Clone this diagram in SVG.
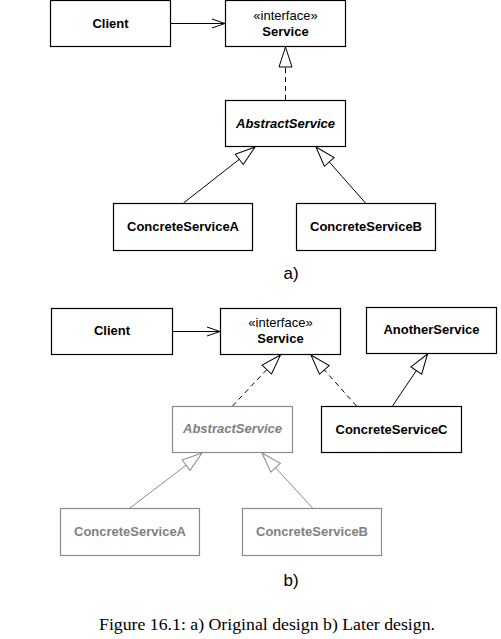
<svg xmlns="http://www.w3.org/2000/svg" width="501" height="639" viewBox="0 0 501 639">
<style>
.box{fill:#fff;stroke:#000;stroke-width:1.2}
.gbox{fill:#fff;stroke:#8c8c8c;stroke-width:1.2}
.t{font-family:"Liberation Sans",Arial,sans-serif;font-size:13px;font-weight:bold;text-anchor:middle;fill:#000}
.st{font-family:"Liberation Sans",Arial,sans-serif;font-size:13px;text-anchor:middle;fill:#000}
.g{fill:#808080}
.i{font-style:italic}
.lab{font-family:"Liberation Sans",Arial,sans-serif;font-size:17px;text-anchor:middle;fill:#000}
.cap{font-family:"Liberation Serif","Times New Roman",serif;font-size:16px;fill:#000}
.ln{stroke:#000;stroke-width:1;fill:none}
.gln{stroke:#8c8c8c;stroke-width:1;fill:none}
.dash{stroke-dasharray:5,4}
</style>
<defs>
<marker id="tri" viewBox="-21 -8 22 16" markerWidth="22" markerHeight="16" refX="0" refY="0" markerUnits="userSpaceOnUse" orient="auto">
<path d="M0,0 L-20,-6.5 L-20,6.5 Z" fill="#fff" stroke="#000" stroke-width="1"/>
</marker>
<marker id="gtri" viewBox="-21 -8 22 16" markerWidth="22" markerHeight="16" refX="0" refY="0" markerUnits="userSpaceOnUse" orient="auto">
<path d="M0,0 L-20,-6.5 L-20,6.5 Z" fill="#fff" stroke="#8c8c8c" stroke-width="1"/>
</marker>
<marker id="open" viewBox="-15 -7 16 14" markerWidth="16" markerHeight="14" refX="0" refY="0" markerUnits="userSpaceOnUse" orient="auto">
<path d="M-13,-4.5 L0,0 L-13,4.5" fill="none" stroke="#000" stroke-width="1"/>
</marker>
</defs>

<g id="connectors">
<line class="ln" x1="171" y1="23.5" x2="225" y2="23.5" marker-end="url(#open)"/>
<line class="ln dash" x1="285.5" y1="100" x2="285.5" y2="47" marker-end="url(#tri)"/>
<line class="ln" x1="183.5" y1="203" x2="255" y2="147" marker-end="url(#tri)"/>
<line class="ln" x1="365.5" y1="203" x2="316" y2="147" marker-end="url(#tri)"/>

<line class="ln" x1="172.5" y1="331.5" x2="220" y2="331.5" marker-end="url(#open)"/>
<line class="ln dash" x1="232.5" y1="406" x2="280.5" y2="355" marker-end="url(#tri)"/>
<line class="ln dash" x1="356.5" y1="406" x2="311" y2="355" marker-end="url(#tri)"/>
<line class="ln" x1="392.5" y1="406" x2="427.5" y2="354" marker-end="url(#tri)"/>
<line class="gln" x1="130" y1="508" x2="202" y2="453" marker-end="url(#gtri)"/>
<line class="gln" x1="312.5" y1="508" x2="262" y2="453" marker-end="url(#gtri)"/>
</g>

<g id="a-client"><rect class="box" x="50.5" y="0.5" width="120" height="46"/><text class="t" x="110.5" y="28">Client</text></g>
<g id="a-service"><rect class="box" x="225.5" y="0.5" width="120" height="46"/><text class="st" x="285.5" y="20">«interface»</text><text class="t" x="285.5" y="36">Service</text></g>
<g id="a-abstract"><rect class="box" x="225.5" y="100.5" width="120" height="46"/><text class="t i" x="285.5" y="128">AbstractService</text></g>
<g id="a-csa"><rect class="box" x="113.5" y="203.5" width="139" height="47"/><text class="t" x="183" y="231">ConcreteServiceA</text></g>
<g id="a-csb"><rect class="box" x="296.5" y="203.5" width="139" height="47"/><text class="t" x="366" y="231">ConcreteServiceB</text></g>
<text class="lab" x="291" y="279">a)</text>

<g id="b-client"><rect class="box" x="51.5" y="308.5" width="121" height="46"/><text class="t" x="112" y="335">Client</text></g>
<g id="b-service"><rect class="box" x="220.5" y="308.5" width="120" height="46"/><text class="st" x="280.5" y="327">«interface»</text><text class="t" x="280.5" y="343">Service</text></g>
<g id="b-another"><rect class="box" x="366.5" y="307.5" width="130" height="46"/><text class="t" x="431.5" y="334">AnotherService</text></g>
<g id="b-abstract"><rect class="gbox" x="172.5" y="406.5" width="120" height="46"/><text class="t i g" x="232.5" y="433">AbstractService</text></g>
<g id="b-csc"><rect class="box" x="321.5" y="406.5" width="140" height="46"/><text class="t" x="391.5" y="434">ConcreteServiceC</text></g>
<g id="b-csa"><rect class="gbox" x="60.5" y="508.5" width="139" height="47"/><text class="t g" x="130" y="536">ConcreteServiceA</text></g>
<g id="b-csb"><rect class="gbox" x="242.5" y="508.5" width="139" height="47"/><text class="t g" x="312" y="536">ConcreteServiceB</text></g>
<text class="lab" x="291" y="586">b)</text>

<text class="cap" x="99" y="630" textLength="336" lengthAdjust="spacingAndGlyphs">Figure 16.1: a) Original design b) Later design.</text>
</svg>
